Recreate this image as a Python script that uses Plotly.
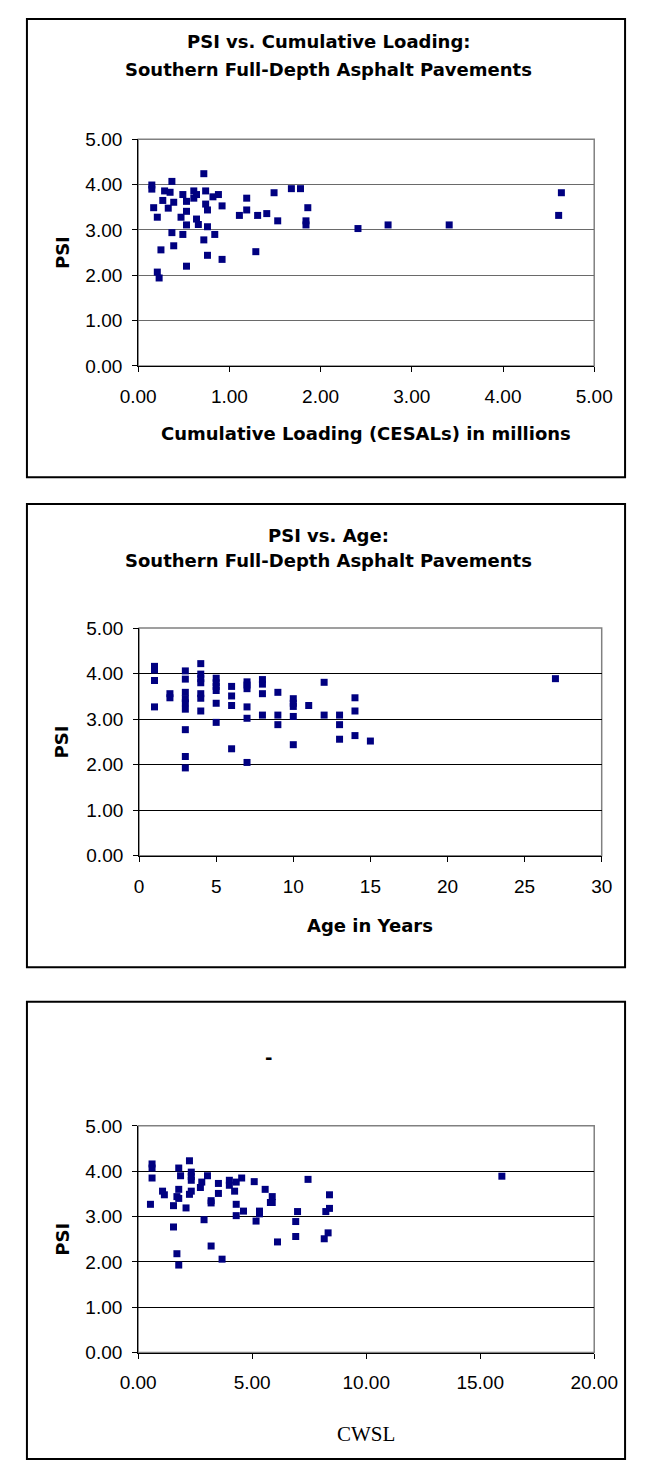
import plotly.graph_objects as go

# ---------------- data ----------------
load_mcesal = [0.15,0.15,0.17,0.21,0.21,0.23,0.25,0.27,0.29,0.33,0.35,0.37,0.37,0.39,0.39,
               0.47,0.49,0.49,0.53,0.53,0.53,0.53,0.61,0.61,0.64,0.64,0.66,0.72,0.72,0.74,
               0.74,0.76,0.76,0.76,0.82,0.84,0.88,0.92,0.92,1.11,1.19,1.19,1.29,1.31,1.41,
               1.49,1.53,1.68,1.78,1.84,1.84,1.86,2.41,2.74,3.41,4.61,4.64]
psi_load = [3.99,3.90,3.49,3.28,2.07,1.94,2.56,3.65,3.86,3.48,3.83,4.07,2.94,3.61,2.65,
            3.28,3.78,2.90,3.63,3.41,3.11,2.20,3.86,3.70,3.78,3.24,3.12,4.24,2.78,3.86,
            3.57,3.44,3.07,2.44,3.73,2.90,3.78,3.53,2.35,3.32,3.70,3.44,2.52,3.32,3.36,
            3.82,3.20,3.91,3.91,3.20,3.11,3.49,3.03,3.11,3.11,3.32,3.82]

age_years = [1,1,1,1, 2,2, 3,3,3,3,3,3,3,3,3, 4,4,4,4,4,4,4, 5,5,5,5,5,5, 6,6,6,6,
             7,7,7,7,7,7, 8,8,8,8, 9,9,9, 10,10,10,10,10, 11, 12,12, 13,13,13,
             14,14,14, 15, 27]
psi_age = [4.16,4.08,3.85,3.27, 3.56,3.47, 4.06,3.88,3.59,3.45,3.36,3.22,2.77,2.18,1.93,
           4.22,3.99,3.89,3.80,3.56,3.46,3.18, 3.90,3.80,3.72,3.63,3.35,2.93,
           3.72,3.51,3.30,2.35, 3.82,3.75,3.67,3.27,3.02,2.05, 3.87,3.77,3.56,3.09,
           3.59,3.09,2.88, 3.45,3.35,3.28,3.06,2.44, 3.30, 3.81,3.09, 3.09,2.88,2.56,
           3.47,3.18,2.64, 2.52, 3.89]

cwsl = [0.54,0.61,0.61,0.61,1.07,1.15,1.55,1.55,1.70,1.70,1.78,1.78,1.78,1.78,1.86,
        2.10,2.25,2.25,2.33,2.33,2.33,2.33,2.73,2.79,2.89,3.04,3.20,3.20,3.20,3.52,
        3.52,3.68,4.00,4.00,4.23,4.30,4.30,4.30,4.54,4.62,5.09,5.17,5.32,5.32,5.57,
        5.88,5.80,5.88,6.11,6.91,6.91,6.99,7.45,8.16,8.23,8.33,8.39,8.39,15.95]
psi_cwsl = [3.27,4.16,4.07,3.85,3.56,3.48,3.24,2.77,3.44,2.18,4.07,3.60,3.40,1.93,3.90,
            3.19,4.23,3.49,3.98,3.88,3.80,3.56,3.64,3.76,2.93,3.90,3.35,3.30,2.35,3.73,
            3.51,2.06,3.80,3.69,3.56,3.76,3.27,3.02,3.85,3.12,3.77,2.90,3.12,3.06,3.60,
            3.44,3.31,3.31,2.44,2.89,2.56,3.11,3.82,2.51,3.11,2.64,3.18,3.48,3.89]

titles = [["PSI vs. Cumulative Loading:", "Southern Full-Depth Asphalt Pavements"],
          ["PSI vs. Age:", "Southern Full-Depth Asphalt Pavements"],
          ["-"]]
xtitles = ["Cumulative Loading (CESALs) in millions", "Age in Years", "CWSL"]
ytitle = "PSI"

# ---------------- layout (page pixels of the target picture) ----------------
# the page body has an 8px margin, so the figure is drawn 8px smaller on each side
OFF = 8
W, H = 658 - 2 * OFF, 1479 - 2 * OFF
def px(x): return min(max(x - OFF, 1), W - 1) / W
def py(y): return 1 - min(max(y - OFF, 1), H - 1) / H

plots = [  # x0, x1, ytop, ybot
    (128, 616, 131, 361),
    (129, 624, 627, 858),
    (128, 616, 1132, 1362),
]
boxes = [(8, 4, 655, 474), (8, 501, 655, 971), (8, 1006, 655, 1476)]
title_pos = [(332, [32, 60]), (332, [533, 558]), (267, [1063])]
xtitle_y = [430, 929, 1445]
xranges = [(0, 5, 1, ".2f"), (0, 30, 5, "d"), (0, 20, 5, ".2f")]
gridcols = ["#6a6a6a", "#000000", "#000000"]

NAVY = "#000080"
TICKFONT = dict(family="Liberation Sans, Arial", size=19, color="#000000")
BOLD = dict(family="DejaVu Sans", size=18, color="#000000", weight="bold")
SERIF = dict(family="Liberation Serif, Times New Roman", size=21, color="#000000")

fig = go.Figure()
series = [(load_mcesal, psi_load), (age_years, psi_age), (cwsl, psi_cwsl)]
annotations = []
shapes = []
for i, ((xs, ys), (x0, x1, yt, yb)) in enumerate(zip(series, plots)):
    n = "" if i == 0 else str(i + 1)
    fig.add_trace(go.Scatter(x=xs, y=ys, mode="markers", xaxis="x" + n, yaxis="y" + n,
                             marker=dict(symbol="square", size=7, color=NAVY,
                                         line=dict(width=0)),
                             showlegend=False, cliponaxis=False))
    lo, hi, dt, fmt = xranges[i]
    fig.layout["xaxis" + n] = dict(domain=[px(x0), px(x1)], anchor="y" + n,
                                  range=[lo, hi], dtick=dt, tick0=0, tickformat=fmt,
                                  showgrid=False, zeroline=False, showline=True,
                                  linecolor="#000000", linewidth=1,
                                  ticks="outside", ticklen=5, tickcolor="#000000",
                                  tickfont=TICKFONT, ticklabelstandoff=8)
    fig.layout["yaxis" + n] = dict(domain=[py(yb), py(yt)], anchor="x" + n,
                                  range=[0, 5], dtick=1, tick0=0, tickformat=".2f",
                                  showgrid=True, gridcolor=gridcols[i], gridwidth=1,
                                  zeroline=False, showline=True,
                                  linecolor="#000000", linewidth=1,
                                  ticks="outside", ticklen=5, tickcolor="#000000",
                                  tickfont=TICKFONT, ticklabelstandoff=6)
    # grey plot-area frame (top / right)
    shapes.append(dict(type="rect", xref="x%s domain" % n, yref="y%s domain" % n,
                       x0=0, x1=1, y0=0, y1=1, line=dict(color="#808080", width=1.5),
                       layer="below"))
    # outer panel border
    bx0, by0, bx1, by1 = boxes[i]
    shapes.append(dict(type="rect", xref="paper", yref="paper",
                       x0=px(bx0), x1=px(bx1), y0=py(by1), y1=py(by0),
                       line=dict(color="#000000", width=2)))
    # chart title lines
    tx, tys = title_pos[i]
    for line, ty in zip(titles[i], tys):
        annotations.append(dict(text=line, x=px(tx), y=py(ty), xref="paper", yref="paper",
                                showarrow=False, xanchor="center", yanchor="middle",
                                font=BOLD))
    # x-axis title
    annotations.append(dict(text=xtitles[i], x=px((x0 + x1) / 2), y=py(xtitle_y[i]),
                            xref="paper", yref="paper", showarrow=False,
                            xanchor="center", yanchor="middle",
                            font=BOLD if i < 2 else SERIF))
    # y-axis title
    annotations.append(dict(text=ytitle, x=px(47), y=py((yt + yb) / 2), xref="paper",
                            yref="paper", showarrow=False, textangle=-90,
                            xanchor="center", yanchor="middle", font=BOLD))

fig.update_layout(width=W, height=H, margin=dict(l=0, r=0, t=0, b=0),
                  paper_bgcolor="#ffffff", plot_bgcolor="#ffffff",
                  annotations=annotations, shapes=shapes, showlegend=False)

fig.write_html("out.html")
